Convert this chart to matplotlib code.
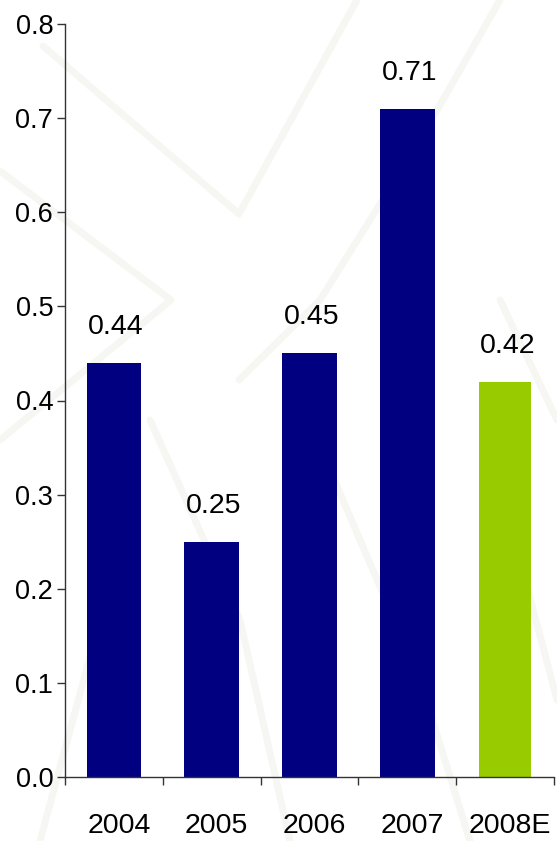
import matplotlib
matplotlib.use("Agg")
import matplotlib.pyplot as plt
import matplotlib.transforms as mtransforms
from matplotlib.ticker import FixedLocator, FormatStrFormatter
from matplotlib.lines import Line2D

plt.rcParams['font.family'] = ['Liberation Sans', 'DejaVu Sans']

# Data
years = ["2004", "2005", "2006", "2007", "2008E"]
values = [0.44, 0.25, 0.45, 0.71, 0.42]
bar_colors = ["#000080", "#000080", "#000080", "#000080", "#99CC00"]
bar_widths = [0.56, 0.56, 0.56, 0.56, 0.53]
y_ticks = [0.0, 0.1, 0.2, 0.3, 0.4, 0.5, 0.6, 0.7, 0.8]

W, H, DPI = 557, 841, 100
fig = plt.figure(figsize=(W / DPI, H / DPI), dpi=DPI)
fig.patch.set_facecolor("white")

# very faint background ornament (large crossing strokes)
wm = "#f6f6f3"
strokes = [
    [(43, 46), (239, 214), (357, 0)],
    [(0, 171), (171, 300), (0, 440)],
    [(239, 380), (320, 300), (420, 140), (500, 0)],
    [(100, 620), (40, 841)],
    [(150, 420), (240, 620), (290, 841)],
    [(330, 470), (420, 680), (470, 841)],
    [(500, 300), (557, 420)],
    [(520, 560), (557, 700)],
]
for pts in strokes:
    xs = [p[0] / W for p in pts]
    ys = [1 - p[1] / H for p in pts]
    fig.add_artist(Line2D(xs, ys, transform=fig.transFigure, color=wm,
                          lw=5, solid_capstyle="round", zorder=0))

ax = fig.add_axes([65 / W, 64 / H, 489 / W, 753 / H])
ax.set_facecolor("none")

x = list(range(len(years)))
ax.bar(x, values, width=bar_widths, color=bar_colors, zorder=2)

for xi, v in zip(x, values):
    ax.annotate(f"{v:.2f}", (xi, v), xytext=(1.5, 26), textcoords="offset points",
                ha="center", va="center", fontsize=20.5, color="black")

ax.set_xlim(-0.5, len(years) - 0.5)
ax.set_ylim(0, 0.8)

for s in ["top", "right"]:
    ax.spines[s].set_visible(False)
for s in ["left", "bottom"]:
    ax.spines[s].set_color("#333333")
    ax.spines[s].set_linewidth(1.0)

ax.yaxis.set_major_locator(FixedLocator(y_ticks))
ax.yaxis.set_major_formatter(FormatStrFormatter("%.1f"))
ax.tick_params(axis="y", direction="out", length=6, width=1, color="#333333",
               pad=2.5, labelsize=19.5, labelcolor="black")

ax.set_xticks(x)
ax.set_xticklabels(years)
ax.set_xticks([i - 0.5 for i in range(len(years) + 1)], minor=True)
ax.tick_params(axis="x", which="major", length=0, pad=26, labelsize=20.5, labelcolor="black")
ax.tick_params(axis="x", which="minor", direction="out", length=6, width=1, color="#333333")
shift = mtransforms.ScaledTranslation(5 / DPI, 0, fig.dpi_scale_trans)
for lbl in ax.get_xticklabels():
    lbl.set_transform(lbl.get_transform() + shift)

fig.savefig("out.png", dpi=DPI, facecolor="white")
